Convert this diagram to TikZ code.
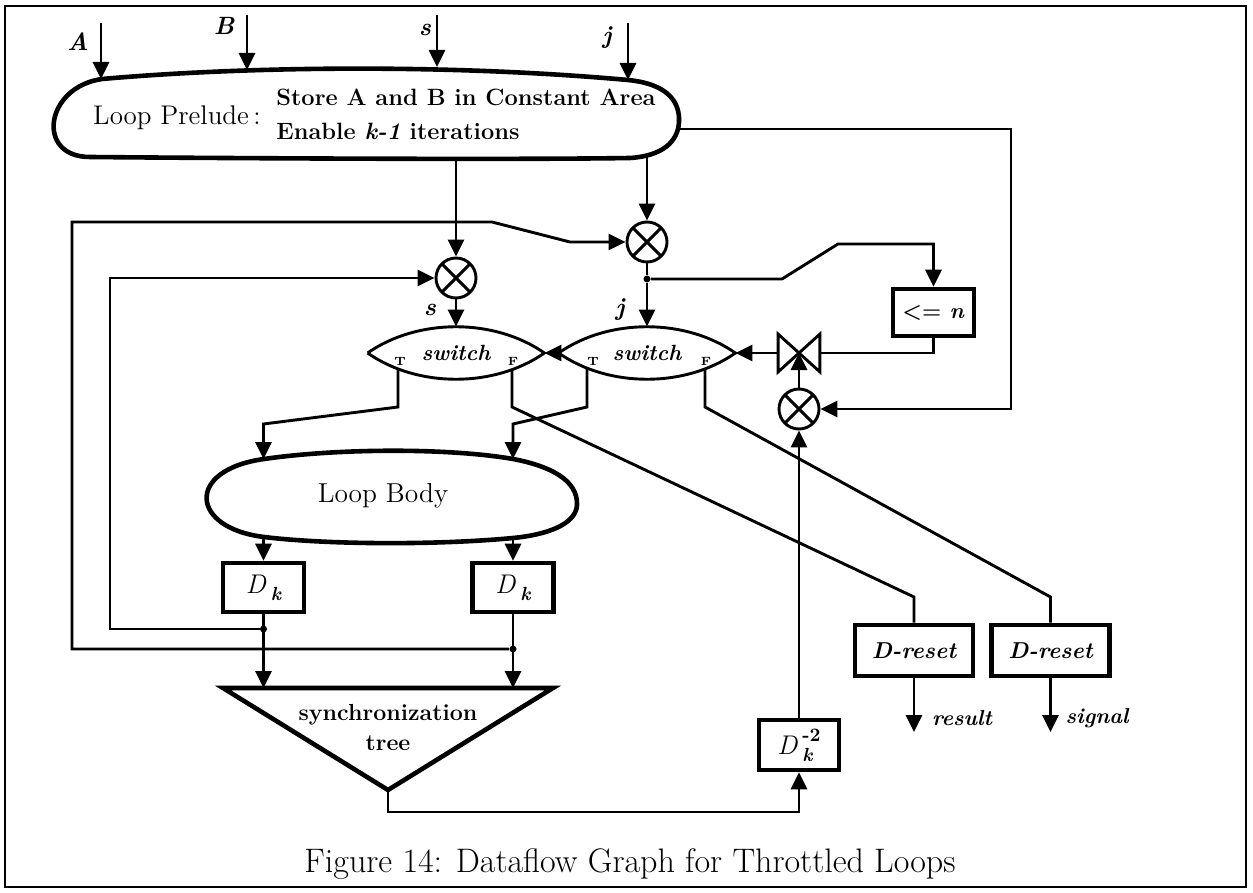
\documentclass[tikz,border=0pt]{standalone}
\usepackage{fontspec}
\usetikzlibrary{arrows.meta,calc}
\pgfdeclarelayer{wires}
\pgfsetlayers{wires,main}
\newcommand\swfont{\fontsize{11}{12}\selectfont\bfseries\itshape}
% delay symbol: italic D with a bold italic lowered k, optional raised exponent
\newcommand\subk{\raisebox{-0.6ex}{\fontsize{9.5}{10}\selectfont\bfseries\itshape k}}
\newcommand\Dk{\textit{D}\,\subk}
\newcommand\Dkm{\textit{D}\,\rlap{\raisebox{-0.6ex}{\fontsize{9.5}{10}\selectfont\bfseries\itshape k}}%
  \raisebox{1.1ex}{\fontsize{9.5}{10}\selectfont\bfseries -2}}
\tikzset{
  wire/.style={line width=1.45pt, line join=miter},
  flow/.style={wire, -{Triangle[length=8.5pt,width=8pt]}},
  heavy/.style={line width=2.3pt},
  regbox/.style={draw, heavy, rectangle, inner sep=0pt, minimum width=40.5pt, minimum height=24.5pt,
    font=\fontsize{13.5}{15}\selectfont},
  mult/.style={circle, draw, wire, minimum size=20pt, inner sep=0pt,
    path picture={\draw[line width=1.45pt]
      (path picture bounding box.north west) -- (path picture bounding box.south east)
      (path picture bounding box.south west) -- (path picture bounding box.north east);}},
  lens/.style={rectangle, draw=none, minimum width=88pt, minimum height=26pt, inner sep=0pt, font=\swfont},
  tf/.style={font=\fontsize{6}{7}\selectfont\bfseries, inner sep=0pt},
  tag/.style={font=\fontsize{12.5}{14}\selectfont\bfseries\itshape, inner sep=0pt},
  jdot/.style={circle, fill, inner sep=0pt, minimum size=3.5pt},
}
\begin{document}
\begin{tikzpicture}[x=0.5pt,y=-0.5pt]
\useasboundingbox (0,0) rectangle (1253,893);
\draw[line width=1.3pt] (5,6) rectangle (1246,887);

% ---- loop prelude ----
\draw[heavy] (102,79) .. controls (250,66) and (450,64) .. (628,80)
  .. controls (668,84) and (680,102) .. (679,122)
  .. controls (678,142) and (662,156) .. (630,158)
  .. controls (500,160) and (200,158) .. (90,157)
  .. controls (35,157) and (45,87) .. (102,79) -- cycle;
\node[font=\fontsize{13.5}{15}\selectfont, inner sep=0pt] (prelude) at (177,118) {Loop Prelude\,:};
\node[font=\fontsize{11.8}{17}\selectfont\bfseries, align=left, anchor=west, inner sep=0pt]
  (prelcmd) at (276,114) {Store A and B in Constant Area\\Enable \textit{k-1} iterations};
\coordinate (pA) at (101,79);
\coordinate (pB) at (247,70);
\coordinate (pS) at (437,67);
\coordinate (pJ) at (628,80);
\coordinate (pO1) at (456,159);
\coordinate (pO2) at (647,157);
\coordinate (pR) at (679,129);

% ---- inputs ----
\coordinate (iA) at (101,23);
\coordinate (iB) at (247,15);
\coordinate (iS) at (437,15);
\coordinate (iJ) at (628,23);
\node[tag] (lA) at (78,42) {A};
\node[tag] (lB) at (224,26) {B};
\node[tag] (lS) at (425,30) {s};
\node[tag] (lJ) at (607,38) {j};

% ---- merges and switches ----
\node[mult] (m1) at (456,278) {};
\node[mult] (m2) at (647,242) {};
\node[mult] (m3) at (799,409) {};
\node[lens] (s1) at (456,353) {switch};
\node[lens] (s2) at (647,353) {switch};
\foreach \s in {s1,s2}
  \draw[wire] (\s.west) .. controls ($(\s.west)+(50,-35)$) and ($(\s.east)+(-50,-35)$) .. (\s.east)
     .. controls ($(\s.east)+(-50,35)$) and ($(\s.west)+(50,35)$) .. (\s.west);
\node[tf] (s1t) at (400,361) {T};
\node[tf] (s1f) at (513,361) {F};
\node[tf] (s2t) at (593,361) {T};
\node[tf] (s2f) at (706,361) {F};
\coordinate (s1T) at (398,369);
\coordinate (s1F) at (512,369);
\coordinate (s2T) at (587,369);
\coordinate (s2F) at (705,369);
\node[tag] (ls) at (430,310) {s};
\node[tag] (lj) at (620,310) {j};

% ---- gate and comparison ----
\node[draw=none, minimum width=20.5pt, minimum height=18.5pt, inner sep=0pt] (bt) at (799,353) {};
\draw[wire] (bt.north west) -- (bt.south west) -- (bt.north east) -- (bt.south east) -- cycle;
\node[regbox, minimum width=40.5pt, minimum height=23.5pt, font=\fontsize{11}{12}\selectfont\bfseries]
  (cmp) at (933.5,312.5) {<= \textit{n}};

% ---- loop body ----
\draw[heavy] (264,459) .. controls (340,448) and (450,448) .. (513,459)
  .. controls (550,466) and (578,480) .. (577,505)
  .. controls (576,525) and (545,535) .. (513,538)
  .. controls (440,545) and (330,545) .. (264,537)
  .. controls (190,528) and (185,470) .. (264,459) -- cycle;
\node[font=\fontsize{13.7}{15}\selectfont, inner sep=0pt] (body) at (383,496) {Loop Body};
\coordinate (lbIn1) at (263.5,459);
\coordinate (lbIn2) at (513,459);
\coordinate (lbOut1) at (263.5,537);
\coordinate (lbOut2) at (513,538);

% ---- delays ----
\node[regbox] (dk1) at (263.5,587.5) {\Dk};
\node[regbox] (dk2) at (513,587.5) {\Dk};
\node[regbox, minimum width=40pt, minimum height=25pt] (dkm) at (799,745) {\Dkm};
\node[regbox, minimum width=59pt, minimum height=25.5pt, font=\fontsize{11.5}{13}\selectfont\bfseries\itshape]
  (rs1) at (914,650.5) {D-reset};
\node[regbox, minimum width=59pt, minimum height=25.5pt, font=\fontsize{11.5}{13}\selectfont\bfseries\itshape]
  (rs2) at (1050.5,650.5) {D-reset};
\coordinate (oR) at (914,732);
\coordinate (oS) at (1050.5,732);
\node[font=\fontsize{10.8}{13}\selectfont\bfseries\itshape, inner sep=0pt] (lres) at (962,718) {result};
\node[font=\fontsize{10.8}{13}\selectfont\bfseries\itshape, inner sep=0pt] (lsig) at (1097,718) {signal};

\node[jdot] (d1) at (263.5,629) {};
\node[jdot] (d2) at (513,649) {};
\node[jdot] (d3) at (647,279) {};

% ---- synchronization tree ----
\coordinate (tl) at (223,688);
\coordinate (tr) at (553,688);
\coordinate (apex) at (388,790);
\coordinate (tIn1) at (263.5,688);
\coordinate (tIn2) at (513,688);
\draw[heavy, line join=miter] (tl) -- (tr) -- (apex) -- cycle;
\node[font=\fontsize{11.6}{15}\selectfont\bfseries, align=center, inner sep=0pt] (treetxt) at (388,728)
  {synchronization\\tree};

% ---- caption ----
\node[font=\fontsize{17}{19}\selectfont, inner sep=0pt] (caption) at (630,864)
  {Figure 14: Dataflow Graph for Throttled Loops};

% ---- connectors ----
\begin{pgfonlayer}{wires}
\draw[flow] (iA) -- (pA);
\draw[flow] (iB) -- (pB);
\draw[flow] (iS) -- (pS);
\draw[flow] (iJ) -- (pJ);
\draw[flow] (pO1) -- (m1);
\draw[flow] (pO2) -- (m2);
\draw[flow] (m1) -- (s1);
\draw[wire] (m2) -- (d3);
\draw[flow] (d3) -- (s2);
\draw[flow] (s2.west) -- (s1.east);
\draw[flow] (bt.west) -- (s2.east);
\draw[wire] (cmp.south) |- (bt.east);
\draw[flow] (d3) -- (782,279) -- (838,244) -| (cmp.north);
\draw[flow] (pR) -- (1011,129) |- (m3.east);
\draw[flow] (m3) -- (bt.center);
\draw[flow] (dkm) -- (m3);
\draw[flow] (apex) -- (388,812) -| (dkm.south);
\draw[flow] (lbOut1) -- (dk1.north);
\draw[flow] (lbOut2) -- (dk2.north);
\draw[flow] (dk1.south) -- (tIn1);
\draw[flow] (dk2.south) -- (tIn2);
\draw[flow] (d1) -- (110,629) |- (m1.west);
\draw[flow] (d2) -- (72,649) -- (72,222) -- (492,222) -- (570,242) -- (m2.west);
\draw[flow] (s1T) -- (398,407) -- (263.5,424) -- (lbIn1);
\draw[flow] (s2T) -- (587,407) -- (513,424) -- (lbIn2);
\draw[wire] (s1F) -- (512,407) -- (914,597) -- (rs1.north);
\draw[wire] (s2F) -- (705,407) -- (1050.5,597) -- (rs2.north);
\draw[flow] (rs1.south) -- (oR);
\draw[flow] (rs2.south) -- (oS);
\end{pgfonlayer}
\end{tikzpicture}
\end{document}
